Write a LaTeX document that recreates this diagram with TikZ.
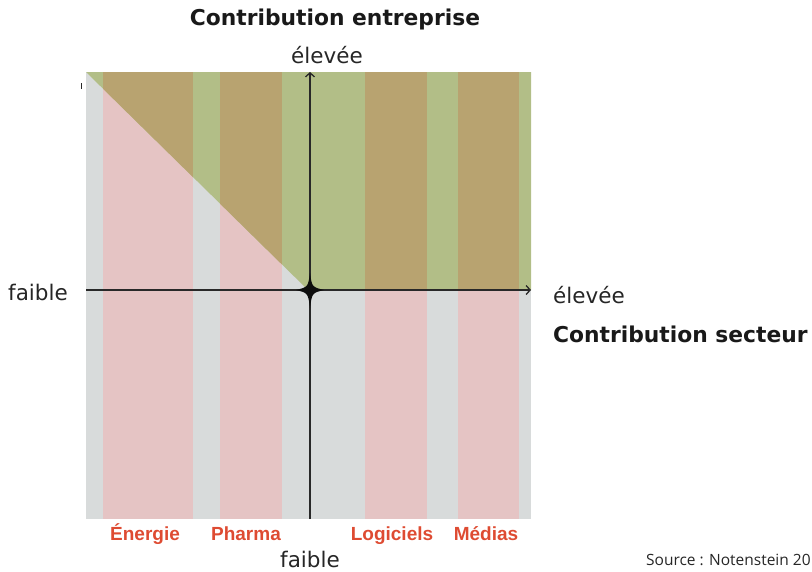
\documentclass[tikz,border=0pt]{standalone}
\usepackage{fontspec}
\setmainfont{DejaVu Sans}
\newfontfamily\labfont{Liberation Sans}
\newfontfamily\srcfont{Open Sans}
\usetikzlibrary{arrows.meta}
\definecolor{bggray}{RGB}{216,219,219}
\definecolor{zonegreen}{RGB}{178,190,135}
\definecolor{bandpink}{RGB}{229,196,196}
\definecolor{bandbrown}{RGB}{184,163,112}
\definecolor{labred}{RGB}{222,75,50}
\definecolor{axisgray}{RGB}{40,40,40}
\tikzset{
  axisline/.style={draw=axisgray, line width=1.3pt, -{Straight Barb[length=4pt,width=9pt]}},
  title/.style={font=\fontsize{21.8}{26}\selectfont\bfseries, text=black!90, inner sep=0pt},
  axlabel/.style={font=\fontsize{21.5}{26}\selectfont, text=black!85, inner sep=0pt},
  sector/.style={font=\labfont\fontsize{19}{23}\selectfont\bfseries, text=labred, inner sep=0pt, anchor=base},
  source/.style={font=\srcfont\fontsize{15.5}{18}\selectfont, text=black!85, inner sep=0pt}
}
\begin{document}
\begin{tikzpicture}[x=1pt,y=1pt]
\useasboundingbox (0,0) rectangle (812,-571);
% background plot area
\fill[bggray] (86,-72) rectangle (531,-519);
% sector bands over gray
\foreach \a/\b in {103/193, 220/282, 365/427, 458/519}
  \fill[bandpink] (\a,-72) rectangle (\b,-519);
% green zone
\fill[zonegreen] (86,-72) -- (531,-72) -- (531,-290) -- (308,-290) -- cycle;
\begin{scope}
  \clip (86,-72) -- (531,-72) -- (531,-290) -- (308,-290) -- cycle;
  \foreach \a/\b in {103/193, 220/282, 365/427, 458/519}
    \fill[bandbrown] (\a,-72) rectangle (\b,-519);
\end{scope}
% small tick
\draw[axisgray, line width=0.8pt] (81,-83) -- (81,-89);
% axes
\coordinate (hl) at (86,-290);
\coordinate (hr) at (531,-290);
\coordinate (vb) at (310,-519);
\coordinate (vt) at (310,-72);
\coordinate (o) at (310,-290);
\draw[axisline] (hl) -- (hr);
\draw[axisline] (vb) -- (vt);
% star
\fill[black!95] (310,-273) .. controls (312,-287) .. (324,-290)
  .. controls (312,-293) .. (310,-308)
  .. controls (308,-293) .. (296,-290)
  .. controls (308,-287) .. (310,-273) -- cycle;
% texts
\node[title] (t1) at (335,-19) {Contribution entreprise};
\node[axlabel] (eh) at (327,-55) {élevée};
\node[axlabel] (fl) at (38,-292) {faible};
\node[axlabel, anchor=west] (er) at (553,-295) {élevée};
\node[title, anchor=west] (t2) at (553,-334) {Contribution secteur};
\node[axlabel] (fb) at (310,-559) {faible};
\node[sector] (s1) at (145,-540) {Énergie};
\node[sector] (s2) at (246,-540) {Pharma};
\node[sector] (s3) at (392,-540) {Logiciels};
\node[sector] (s4) at (486,-540) {Médias};
\node[source, anchor=west] (src) at (646,-560) {Source : Notenstein 20};
\end{tikzpicture}
\end{document}
